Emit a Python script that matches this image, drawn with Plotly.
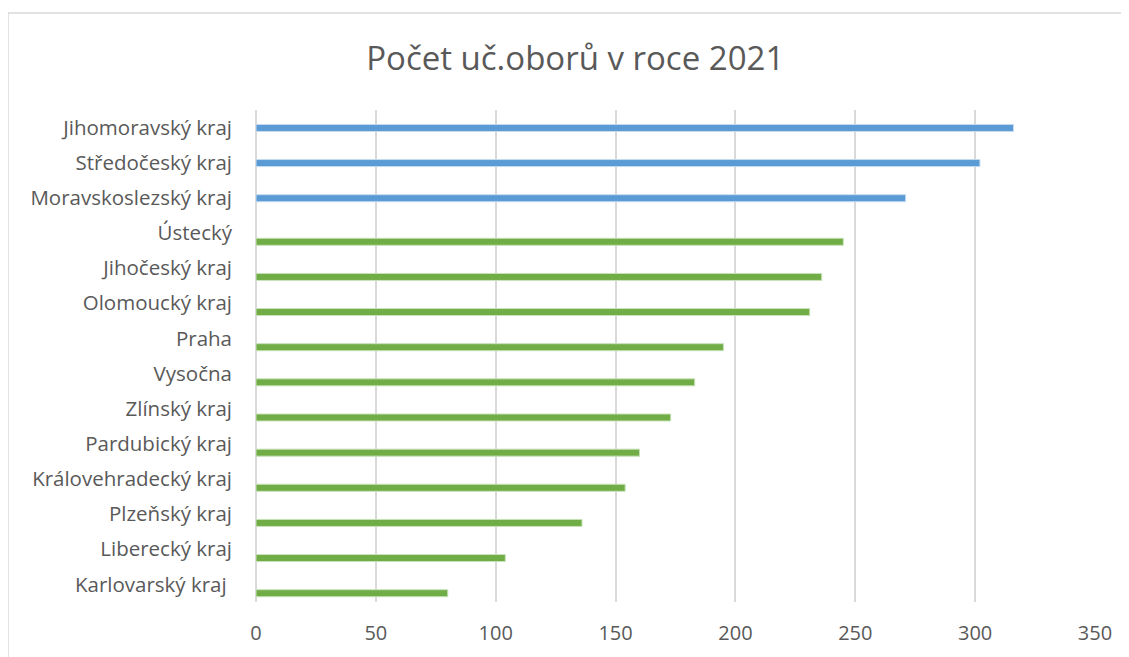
import plotly.graph_objects as go

# počet učebních oborů podle kraje, 2021
kraje_top = ["Jihomoravský kraj", "Středočeský kraj", "Moravskoslezský kraj"]
obory_top = [316, 302, 271]

kraje_ostatni = ["Ústecký", "Jihočeský kraj", "Olomoucký kraj", "Praha", "Vysočna",
                 "Zlínský kraj", "Pardubický kraj", "Královehradecký kraj",
                 "Plzeňský kraj", "Liberecký kraj", "Karlovarský kraj "]
obory_ostatni = [245, 236, 231, 195, 183, 173, 160, 154, 136, 104, 80]

x_ticks = [0, 50, 100, 150, 200, 250, 300, 350]

vsechny = kraje_top + kraje_ostatni
grey_txt = "#595959"
grid = "#d9d9d9"
pismo = "Open Sans, sans-serif"

fig = go.Figure()
fig.add_trace(go.Bar(y=kraje_top, x=obory_top, orientation="h", width=0.2, offset=-0.09,
                     marker=dict(color="#5b9bd5", line=dict(color="#c5dbef", width=1))))
fig.add_trace(go.Bar(y=kraje_ostatni, x=obory_ostatni, orientation="h", width=0.2, offset=0.15,
                     marker=dict(color="#70ad47", line=dict(color="#c9e2b8", width=1))))

# stránka má 8px okraj, proto je graf o 8px menší
fig.update_layout(
    width=1121, height=649,
    margin=dict(l=248, r=34, t=102, b=55),
    paper_bgcolor="white", plot_bgcolor="white",
    showlegend=False,
    barmode="overlay",
    font=dict(family=pismo, color=grey_txt, size=18),
    title=dict(text="Počet uč.oborů v roce 2021", x=0.506, xref="container", xanchor="center",
               y=0.923, yref="container", yanchor="middle",
               font=dict(size=33, color=grey_txt, family=pismo)),
    shapes=[dict(type="rect", xref="paper", yref="paper",
                 x0=-0.2956, x1=1.5, y0=-0.3, y1=1.197,
                 line=dict(color="#d9d9d9", width=1.5), layer="below")],
)
fig.update_xaxes(range=[0, 350], tickvals=x_ticks, showgrid=True, gridcolor=grid, gridwidth=2,
                 zeroline=True, zerolinecolor=grid, zerolinewidth=2, showline=False,
                 ticklabelstandoff=17, tickfont=dict(size=20, color=grey_txt))
fig.update_yaxes(categoryorder="array", categoryarray=vsechny, autorange="reversed",
                 showgrid=False, showline=False, ticklabelstandoff=23,
                 tickfont=dict(size=20.5, color=grey_txt))

fig.write_html("out.html")
